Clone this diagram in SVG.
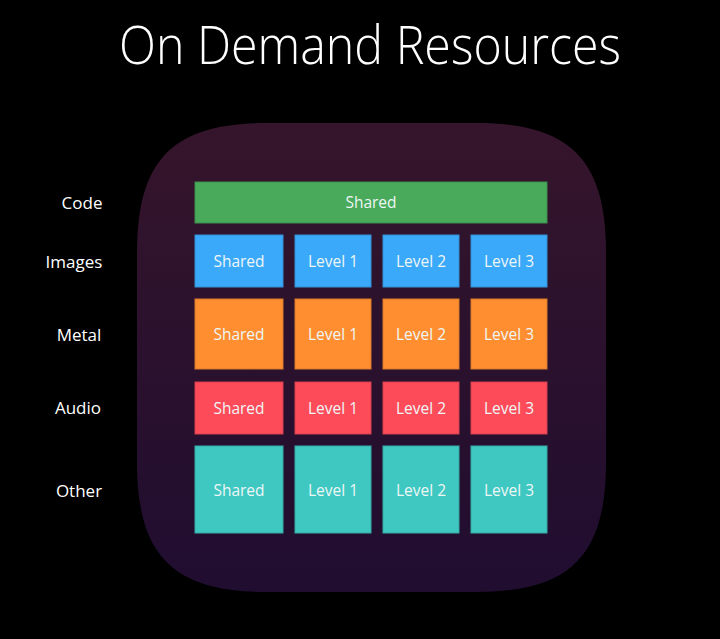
<svg xmlns="http://www.w3.org/2000/svg" width="720" height="639" viewBox="0 0 720 639">
<defs>
<linearGradient id="bg" x1="0" y1="0" x2="0" y2="1">
<stop offset="0" stop-color="#35152b"/>
<stop offset="1" stop-color="#200d30"/>
</linearGradient>
</defs>
<style>
.lbl{font-family:"Open Sans","Liberation Sans",sans-serif;font-size:17px;fill:#ffffff;text-anchor:middle;dominant-baseline:central}
.bt{font-family:"Open Sans","Liberation Sans",sans-serif;font-size:15.5px;fill:#eef6f6;text-anchor:middle;dominant-baseline:central}
.g{fill:#48aa5a;stroke:#3d8f4d;stroke-width:1}
.b{fill:#3aa9f9;stroke:#3391d6;stroke-width:1}
.o{fill:#fe8e30;stroke:#d97a2a;stroke-width:1}
.r{fill:#fd4b59;stroke:#d6404d;stroke-width:1}
.t{fill:#3ec8c1;stroke:#35aba6;stroke-width:1}
</style>
<rect width="720" height="639" fill="#000"/>
<text x="370" y="64" font-family="Open Sans, Liberation Sans, sans-serif" font-weight="300" font-size="53" fill="#fff" text-anchor="middle" textLength="502" lengthAdjust="spacingAndGlyphs">On Demand Resources</text>
<path d="M 267,123 H 476 C 570,123 606,159 606,253 V 462 C 606,556 570,592 476,592 H 267 C 173,592 137,556 137,462 V 253 C 137,159 173,123 267,123 Z" fill="url(#bg)"/>
<g id="labels">
<text class="lbl" x="82" y="202">Code</text>
<text class="lbl" x="74" y="261">Images</text>
<text class="lbl" x="79" y="334">Metal</text>
<text class="lbl" x="78" y="407">Audio</text>
<text class="lbl" x="79" y="490">Other</text>
</g>
<g id="code-shared"><rect class="g" x="195" y="182" width="352" height="41"/><text class="bt" x="371" y="202">Shared</text></g>
<g id="images-shared"><rect class="b" x="195" y="235" width="88" height="52"/><text class="bt" x="239" y="261">Shared</text></g>
<g id="images-l1"><rect class="b" x="295" y="235" width="76" height="52"/><text class="bt" x="333" y="261">Level 1</text></g>
<g id="images-l2"><rect class="b" x="383" y="235" width="76" height="52"/><text class="bt" x="421" y="261">Level 2</text></g>
<g id="images-l3"><rect class="b" x="471" y="235" width="76" height="52"/><text class="bt" x="509" y="261">Level 3</text></g>
<g id="metal-shared"><rect class="o" x="195" y="299" width="88" height="70"/><text class="bt" x="239" y="334">Shared</text></g>
<g id="metal-l1"><rect class="o" x="295" y="299" width="76" height="70"/><text class="bt" x="333" y="334">Level 1</text></g>
<g id="metal-l2"><rect class="o" x="383" y="299" width="76" height="70"/><text class="bt" x="421" y="334">Level 2</text></g>
<g id="metal-l3"><rect class="o" x="471" y="299" width="76" height="70"/><text class="bt" x="509" y="334">Level 3</text></g>
<g id="audio-shared"><rect class="r" x="195" y="382" width="88" height="52"/><text class="bt" x="239" y="408">Shared</text></g>
<g id="audio-l1"><rect class="r" x="295" y="382" width="76" height="52"/><text class="bt" x="333" y="408">Level 1</text></g>
<g id="audio-l2"><rect class="r" x="383" y="382" width="76" height="52"/><text class="bt" x="421" y="408">Level 2</text></g>
<g id="audio-l3"><rect class="r" x="471" y="382" width="76" height="52"/><text class="bt" x="509" y="408">Level 3</text></g>
<g id="other-shared"><rect class="t" x="195" y="446" width="88" height="87"/><text class="bt" x="239" y="490">Shared</text></g>
<g id="other-l1"><rect class="t" x="295" y="446" width="76" height="87"/><text class="bt" x="333" y="490">Level 1</text></g>
<g id="other-l2"><rect class="t" x="383" y="446" width="76" height="87"/><text class="bt" x="421" y="490">Level 2</text></g>
<g id="other-l3"><rect class="t" x="471" y="446" width="76" height="87"/><text class="bt" x="509" y="490">Level 3</text></g>
<g id="connectors"/>
</svg>
